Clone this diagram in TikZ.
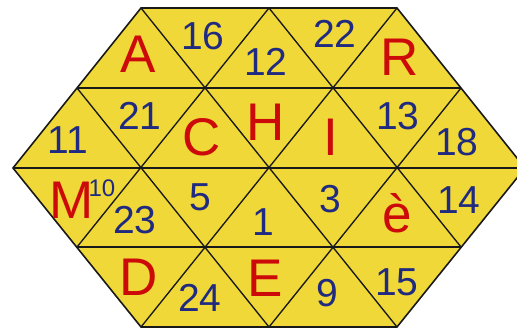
\documentclass[tikz,border=0pt]{standalone}
\usepackage{fontspec}
\setmainfont{Liberation Sans}
\definecolor{tilefill}{HTML}{EFD838}
\definecolor{lettred}{HTML}{CC0A0A}
\definecolor{numblue}{HTML}{202A80}
\begin{document}
\begin{tikzpicture}[x=1pt,y=-1pt,
  gridline/.style={draw=black!90, line width=1.35pt},
  edgeline/.style={draw=black!90, line width=1.6pt, line join=miter},
  lett/.style={text=lettred, font=\fontsize{53}{53}\selectfont, inner sep=0pt},
  numb/.style={text=numblue, font=\fontsize{39}{39}\selectfont, inner sep=0pt},
  supnum/.style={text=numblue, font=\fontsize{24}{24}\selectfont, inner sep=0pt}]
\useasboundingbox (0,0) rectangle (517,330);
\clip (0,0) rectangle (517,330);
% vertices
\coordinate (t1) at (141,8);
\coordinate (t2) at (269,8);
\coordinate (t3) at (397,8);
\coordinate (a0) at (77,88);
\coordinate (a1) at (205,88);
\coordinate (a2) at (333,88);
\coordinate (a3) at (461,88);
\coordinate (m0) at (13,168);
\coordinate (m1) at (141,168);
\coordinate (m2) at (269,168);
\coordinate (m3) at (397,168);
\coordinate (m4) at (525,168);
\coordinate (b0) at (77,247);
\coordinate (b1) at (205,247);
\coordinate (b2) at (333,247);
\coordinate (b3) at (461,247);
\coordinate (u1) at (141,327);
\coordinate (u2) at (269,327);
\coordinate (u3) at (397,327);
% hexagon fill
\fill[tilefill] (t1) -- (t3) -- (m4) -- (u3) -- (u1) -- (m0) -- cycle;
% horizontal lines
\draw[gridline] (a0) -- (a3);
\draw[gridline] (m0) -- (m4);
\draw[gridline] (b0) -- (b3);
% down-right diagonals
\draw[gridline] (a0) -- (u2);
\draw[gridline] (t1) -- (u3);
\draw[gridline] (t2) -- (b3);
% down-left diagonals
\draw[gridline] (a3) -- (u2);
\draw[gridline] (t3) -- (u1);
\draw[gridline] (t2) -- (b0);
% outline
\draw[edgeline] (t1) -- (t3) -- (m4) -- (u3) -- (u1) -- (m0) -- cycle;
% row 0
\node[lett] (lA) at (138,54) {A};
\node[numb] (n16) at (203,36) {16};
\node[numb] (n12) at (266,62) {12};
\node[numb] (n22) at (335,34) {22};
\node[lett] (lR) at (400,57) {R};
% row 1
\node[numb] (n11) at (68,140) {11};
\node[numb] (n21) at (140,116) {21};
\node[lett] (lC) at (202,137) {C};
\node[lett] (lH) at (266,122) {H};
\node[lett] (lI) at (331,137) {I};
\node[numb] (n13) at (398,116) {13};
\node[numb] (n18) at (457,142) {18};
% row 2
\node[lett] (lM) at (72,200) {M};
\node[supnum] (n10) at (102,188) {10};
\node[numb] (n23) at (135,220) {23};
\node[numb] (n5) at (200,197) {5};
\node[numb] (n1) at (263,222) {1};
\node[numb] (n3) at (330,199) {3};
\node[lett] (le) at (397,213) {è};
\node[numb] (n14) at (459,200) {14};
% row 3
\node[lett] (lD) at (139,277) {D};
\node[numb] (n24) at (200,298) {24};
\node[lett] (lE) at (265,278) {E};
\node[numb] (n9) at (327,293) {9};
\node[numb] (n15) at (397,282) {15};
\end{tikzpicture}
\end{document}
